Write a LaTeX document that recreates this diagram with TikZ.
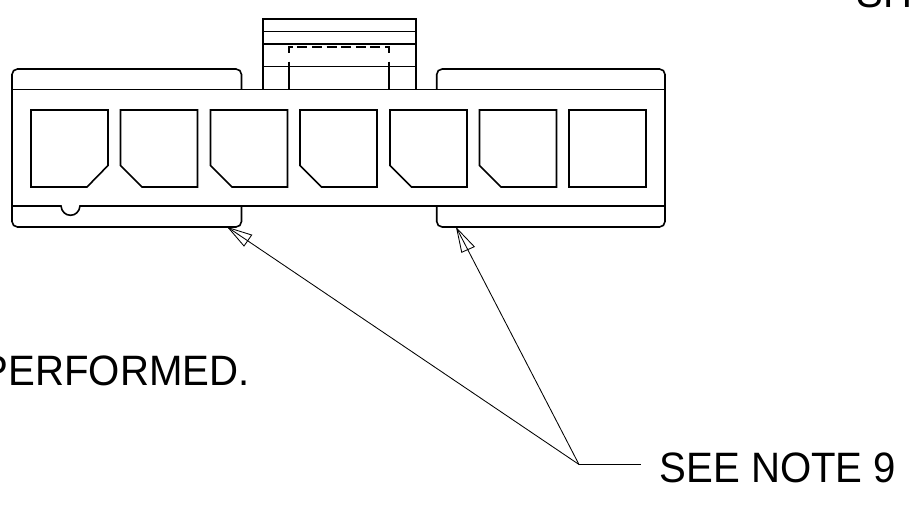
\documentclass[tikz,border=0pt]{standalone}
\usepackage{fontspec}
\setmainfont{Liberation Sans}
\newfontfamily\tallfont[FakeStretch=0.945]{Liberation Sans}
\tikzset{
  main/.style={line width=1.6pt,line join=miter,black},
  thin line/.style={line width=0.85pt,black},
  label text/.style={inner sep=0pt,anchor=base west,font=\tallfont\fontsize{42.5}{50}\selectfont},
}
\begin{document}
\begin{tikzpicture}[x=1pt,y=-1pt]
\useasboundingbox (0,0) rectangle (914,505);
\clip (0,0) rectangle (914,505);
% tabs and body
\draw[main,rounded corners=5.5pt] (241.5,89.5) -- (241.5,69) -- (12,69) -- (12,227) -- (241.5,227) -- (241.5,206);
\draw[main,rounded corners=5.5pt] (436.7,89.5) -- (436.7,69) -- (665,69) -- (665,227) -- (436.7,227) -- (436.7,206);
\draw[main] (12,89.5) -- (665,89.5);
\draw[main] (12,206) -- (61,206) .. controls (61.5,211.5) and (65.5,215.3) .. (70.5,215.3) .. controls (75.5,215.3) and (79.5,211.5) .. (80,206) -- (665,206);
% windows
\draw[main] (31,110) -- (108,110) -- (108,165.5) -- (87,187) -- (31,187) -- cycle;
\foreach \x in {120.5,210.5,300,390,479.5}
  \draw[main] (\x,110) -- (\x+77,110) -- (\x+77,187) -- (\x+21.5,187) -- (\x,165.5) -- cycle;
\draw[main] (569,110) -- (646,110) -- (646,187) -- (569,187) -- cycle;
% top block
\draw[main] (262.7,89.5) -- (262.7,19.3) -- (415.7,19.3) -- (415.7,89.5);
\draw[main] (262.7,31.7) -- (415.7,31.7);
\draw[main] (262.7,44.3) -- (415.7,44.3);
\draw[main] (262.7,66.7) -- (415.7,66.7);
\draw[main] (288.7,61.7) -- (288.7,89.5);
\draw[main] (389,61.7) -- (389,89.5);
\draw[main,dash pattern=on 10pt off 4.6pt] (288.7,52.7) -- (288.7,46.8) -- (389,46.8) -- (389,52.7);
% leaders
\coordinate (hub) at (579,464.5);
\coordinate (tipA) at (228.3,227.7);
\coordinate (tipB) at (456.7,228.3);
\coordinate (leaderEnd) at (640.5,464.5);
\draw[thin line] (hub) -- (tipA);
\draw[thin line] (hub) -- (tipB);
\draw[thin line] (hub) -- (leaderEnd);
\draw[thin line] (tipA) -- (251.7,235) -- (244,246) -- cycle;
\draw[thin line] (tipB) -- (474.3,246.7) -- (461.7,252.3) -- cycle;
% text
\node[label text] (perf) at (-18.5,385) {PERFORMED.};
\node[label text] (note) at (659.5,482.5) {SEE NOTE 9};
\node[label text] (sh) at (856.5,7.5) {SH};
\end{tikzpicture}
\end{document}
